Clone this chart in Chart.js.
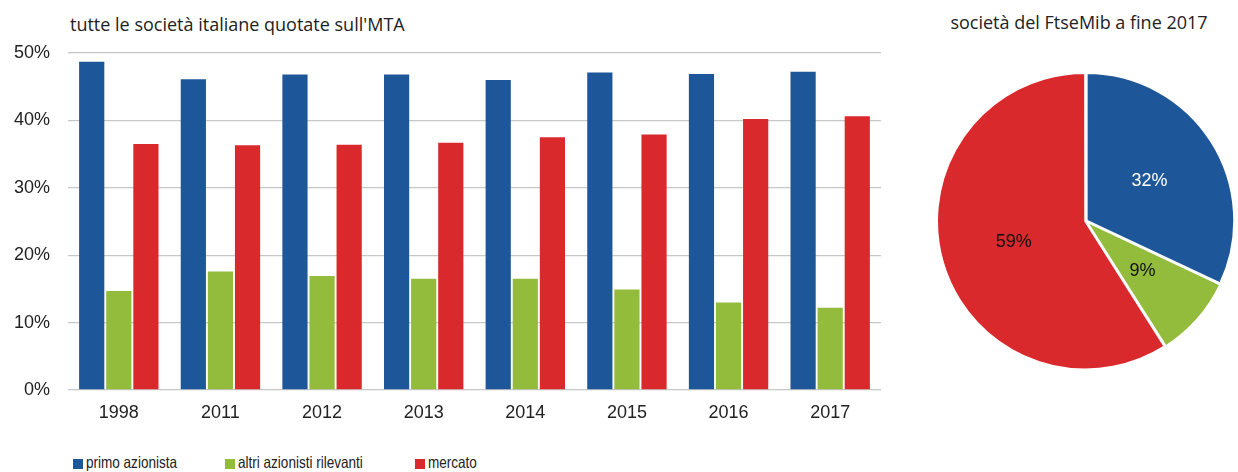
<!DOCTYPE html>
<html>
<head>
<meta charset="utf-8">
<script src="https://cdn.jsdelivr.net/npm/chart.js@4"></script>
<style>
    body { margin: 0; background: #fff; overflow: hidden; }
    .box { position: absolute; }
    .title { position: absolute; font-family: "Open Sans", sans-serif; font-size: 18px; color: #222; white-space: nowrap; }
    .legend-item { position: absolute; top: 453px; font-family: "Liberation Sans", sans-serif; font-size: 16.5px; color: #222; white-space: nowrap; }
    .legend-item .swatch { display: inline-block; width: 10px; height: 10px; margin-right: 3px; vertical-align: -1px; }
    .legend-item .text { display: inline-block; transform: scaleX(0.82); transform-origin: left center; }
</style>
</head>
<body>
<div class="title" style="left:70px; top:12px;">tutte le società italiane quotate sull'MTA</div>
<div class="title" style="left:929px; top:10px; width:300px; text-align:center;">società del FtseMib a fine 2017</div>

<div class="box" style="left:0; top:0; width:900px; height:430px;"><canvas id="barChart"></canvas></div>
<div class="box" style="left:936px; top:71px; width:300px; height:300px;"><canvas id="pieChart"></canvas></div>

<div id="legend"></div>

<script>
const years = ['1998', '2011', '2012', '2013', '2014', '2015', '2016', '2017'];
const seriesNames = ['primo azionista', 'altri azionisti rilevanti', 'mercato'];
const primoAzionista = [48.7, 46.1, 46.8, 46.8, 46.0, 47.1, 46.9, 47.2];
const altriAzionisti = [14.7, 17.6, 16.9, 16.5, 16.5, 14.9, 13.0, 12.2];
const mercato = [36.5, 36.3, 36.4, 36.7, 37.5, 37.9, 40.2, 40.6];
const yTicks = [0, 10, 20, 30, 40, 50];

const pieValues = [32, 9, 59];
const pieLabels = ['32%', '9%', '59%'];

const colors = ['#1e5799', '#93bb3c', '#d9292c'];

// legend (html, left aligned under the bars)
const legendLeft = [73, 225, 415];
const legend = document.getElementById('legend');
seriesNames.forEach((name, i) => {
    const item = document.createElement('div');
    item.className = 'legend-item';
    item.style.left = legendLeft[i] + 'px';
    item.innerHTML = `<span class="swatch" style="background:${colors[i]}"></span><span class="text">${name}</span>`;
    legend.appendChild(item);
});

new Chart(document.getElementById('barChart'), {
    type: 'bar',
    data: {
        labels: years,
        datasets: [primoAzionista, altriAzionisti, mercato].map((values, i) => ({
            label: seriesNames[i],
            data: values,
            backgroundColor: colors[i],
            categoryPercentage: 0.8,
            barPercentage: 0.93
        }))
    },
    options: {
        responsive: true,
        maintainAspectRatio: false,
        animation: false,
        layout: { padding: { top: 53, right: 19, left: 0, bottom: 0 } },
        plugins: {
            legend: { display: false },
            title: { display: false },
            tooltip: { enabled: false }
        },
        scales: {
            x: {
                grid: { display: false },
                border: { display: false },
                ticks: {
                    padding: 4,
                    color: '#222',
                    font: { family: 'Liberation Sans', size: 18 }
                },
                afterFit: scale => { scale.height = 40; }
            },
            y: {
                min: yTicks[0],
                max: yTicks[yTicks.length - 1],
                afterBuildTicks: scale => { scale.ticks = yTicks.map(v => ({ value: v })); },
                grid: { color: '#c8c8c8', lineWidth: 1.3, drawTicks: false },
                border: { display: false },
                ticks: {
                    padding: 18,
                    color: '#222',
                    font: { family: 'Liberation Sans', size: 18 },
                    callback: value => value + '%'
                },
                afterFit: scale => { scale.width = 68; }
            }
        }
    }
});

// percent labels inside the slices
const sliceLabels = {
    id: 'sliceLabels',
    afterDatasetsDraw(chart) {
        const ctx = chart.ctx;
        const arcs = chart.getDatasetMeta(0).data;
        ctx.save();
        ctx.font = '18px "Liberation Sans"';
        ctx.textAlign = 'center';
        ctx.textBaseline = 'middle';
        arcs.forEach((arc, i) => {
            const pos = arc.tooltipPosition();
            ctx.fillStyle = i === 0 ? '#ffffff' : '#111111';
            ctx.fillText(pieLabels[i], pos.x, pos.y);
        });
        ctx.restore();
    }
};

new Chart(document.getElementById('pieChart'), {
    type: 'pie',
    data: {
        labels: seriesNames,
        datasets: [{
            data: pieValues,
            backgroundColor: colors,
            borderColor: '#ffffff',
            borderWidth: 2,
            offset: 3
        }]
    },
    options: {
        responsive: true,
        maintainAspectRatio: false,
        animation: false,
        plugins: {
            legend: { display: false },
            tooltip: { enabled: false }
        }
    },
    plugins: [sliceLabels]
});
</script>
</body>
</html>
